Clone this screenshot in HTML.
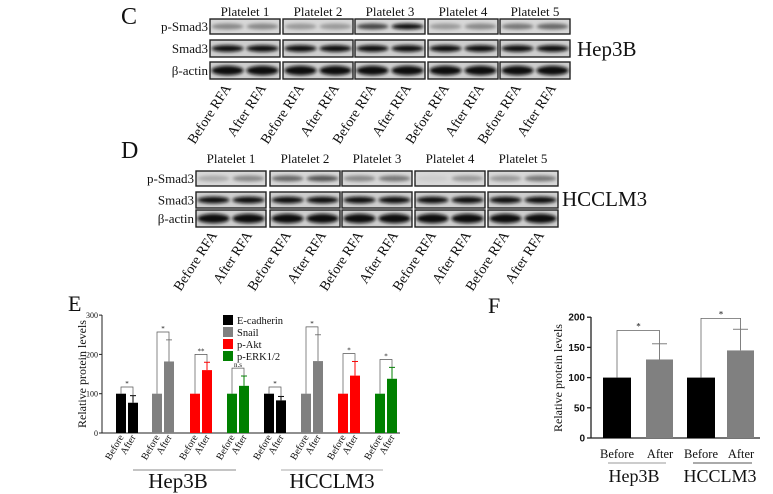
<!DOCTYPE html>
<html><head><meta charset="utf-8"><style>
html,body{margin:0;padding:0;background:#fff;width:773px;height:494px;overflow:hidden}
svg{display:block}
text{font-family:"Liberation Serif",serif;fill:#111}
.s{font-family:"Liberation Sans",sans-serif}
</style></head><body>
<svg id="g" width="773" height="494" viewBox="0 0 773 494" xmlns="http://www.w3.org/2000/svg">
<defs><filter id="b" x="-20%" y="-50%" width="140%" height="200%"><feGaussianBlur stdDeviation="1.6"/></filter></defs>
<text x="121" y="24" font-size="24">C</text>
<text x="121" y="158" font-size="24">D</text>
<text x="68" y="311" font-size="22">E</text>
<text x="488" y="313" font-size="22">F</text>
<text x="577" y="56" font-size="21">Hep3B</text>
<text x="562" y="206" font-size="21">HCCLM3</text>
</svg>
<script>
const S=document.getElementById('g');const NS='http://www.w3.org/2000/svg';
function el(t,a,txt){const e=document.createElementNS(NS,t);for(const k in a)e.setAttribute(k,a[k]);if(txt!==undefined)e.textContent=txt;S.appendChild(e);return e;}
function blot(xs,w,rows,labTop,rotY,labX,ptop){
 const names=['p-Smad3','Smad3','β-actin'];
 rows.forEach((r,i)=>{el('text',{x:labX,y:r[0]+r[1]/2+4.5,'font-size':13,'text-anchor':'end'},names[i]);});
 xs.forEach((x,j)=>{
  el('text',{x:x+w/2,y:labTop,'font-size':13,'text-anchor':'middle'},'Platelet '+(j+1));
  rows.forEach((r,i)=>{
   el('rect',{x:x,y:r[0],width:w,height:r[1],fill:i==0?'#d8d8d8':'#cfcfcf',stroke:'#222','stroke-width':1.4});
   [0.25,0.75].forEach((f,k)=>{
    let c=i==0?(ptop[j][k]):'#111';
    el('ellipse',{cx:x+w*f,cy:r[0]+r[1]/2,rx:w*0.23,ry:i==0?3:(i==1?3.4:4.8),fill:c,filter:'url(#b)'});
   });
  });
  [0.25,0.75].forEach((f,k)=>{
   const cx=x+w*f+4;
   el('text',{x:cx,y:rotY,'font-size':14,'text-anchor':'end',transform:`rotate(-57 ${cx} ${rotY})`},k?'After RFA':'Before RFA');
  });
 });
}
blot([210,283,355,428,500],70,[[19,15],[40,17],[62,17]],16,88,208,
 [['#888','#888'],['#999','#999'],['#444','#111'],['#999','#888'],['#777','#666']]);
blot([196,270,342,415,488],70,[[171,15],[192,16],[210,17]],163,235,194,
 [['#aaa','#888'],['#666','#555'],['#888','#777'],['#ccc','#999'],['#999','#777']]);
// Chart E
const ax=102,y0=433,k=0.393;
el('line',{x1:ax,y1:315,x2:ax,y2:y0,stroke:'#222','stroke-width':1});
el('line',{x1:ax,y1:y0,x2:400,y2:y0,stroke:'#222','stroke-width':1});
[0,100,200,300].forEach(v=>{const y=y0-v*k;el('line',{x1:ax-3,y1:y,x2:ax,y2:y,stroke:'#222'});el('text',{x:ax-4,y:y+3,'font-size':8,'text-anchor':'end'},v);});
el('text',{x:86,y:374,'font-size':12,'text-anchor':'middle',transform:'rotate(-90 86 374)'},'Relative protein levels');
const cols=['#000','#808080','#f00','#008000'];
const dat=[[116,77,95,'*'],[152,182,237,'*'],[190,160,180,'**'],[227,120,145,'ns'],[264,83,93,'*'],[301,183,250,'*'],[338,146,182,'*'],[375,138,167,'*']];
dat.forEach((d,i)=>{
 const c=cols[i%4],x=d[0];
 el('rect',{x:x,y:y0-100*k,width:10,height:100*k,fill:c});
 el('rect',{x:x+12,y:y0-d[1]*k,width:10,height:d[1]*k,fill:c});
 el('line',{x1:x+17,y1:y0-d[1]*k,x2:x+17,y2:y0-d[2]*k,stroke:c});
 el('line',{x1:x+14,y1:y0-d[2]*k,x2:x+20,y2:y0-d[2]*k,stroke:c});
 const by=y0-Math.max(d[2]+20,117)*k;
 el('path',{d:`M${x+5} ${y0-100*k}V${by}H${x+17}V${y0-d[2]*k}`,fill:'none',stroke:'#555','stroke-width':0.7});
 el('text',{x:x+11,y:by-1,'font-size':7,'text-anchor':'middle'},d[3]=='ns'?'n.s':d[3]);
 [[x+8,'Before'],[x+20,'After']].forEach(p=>el('text',{x:p[0],y:437,'font-size':10,'text-anchor':'end',transform:`rotate(-60 ${p[0]} 437)`},p[1]));
});
['E-cadherin','Snail','p-Akt','p-ERK1/2'].forEach((n,i)=>{el('rect',{x:223,y:315+i*12,width:10,height:10,fill:cols[i]});el('text',{x:237,y:324+i*12,'font-size':10.5},n);});
el('line',{x1:133,y1:470,x2:236,y2:470,stroke:'#888'});el('line',{x1:281,y1:470,x2:383,y2:470,stroke:'#aaa'});
el('text',{x:178,y:488,'font-size':21,'text-anchor':'middle'},'Hep3B');
el('text',{x:332,y:488,'font-size':21,'text-anchor':'middle'},'HCCLM3');
// Chart F
const fx=591,f0=438,fk=0.604;
el('line',{x1:fx,y1:317,x2:fx,y2:f0,stroke:'#222','stroke-width':1.3});
el('line',{x1:fx,y1:f0,x2:760,y2:f0,stroke:'#222','stroke-width':1.3});
[0,50,100,150,200].forEach(v=>{const y=f0-v*fk;el('line',{x1:fx-4,y1:y,x2:fx,y2:y,stroke:'#222','stroke-width':1.3});el('text',{x:fx-6,y:y+3.5,'font-size':10,'font-weight':'bold','text-anchor':'end',class:'s'},v);});
el('text',{x:562,y:378,'font-size':12,'text-anchor':'middle',transform:'rotate(-90 562 378)'},'Relative protein levels');
[[603,646,130,156,178],[687,727,145,180,198]].forEach(d=>{
 el('rect',{x:d[0],y:f0-100*fk,width:28,height:100*fk,fill:'#000'});
 el('rect',{x:d[1],y:f0-d[2]*fk,width:27,height:d[2]*fk,fill:'#808080'});
 el('line',{x1:d[1]+13.5,y1:f0-d[2]*fk,x2:d[1]+13.5,y2:f0-d[3]*fk,stroke:'#808080'});
 el('line',{x1:d[1]+6,y1:f0-d[3]*fk,x2:d[1]+21,y2:f0-d[3]*fk,stroke:'#808080'});
 el('path',{d:`M${d[0]+14} ${f0-100*fk}V${f0-d[4]*fk}H${d[1]+13.5}V${f0-d[3]*fk}`,fill:'none',stroke:'#666','stroke-width':0.8});
 el('text',{x:(d[0]+d[1])/2+14,y:f0-d[4]*fk-1,'font-size':9,'text-anchor':'middle'},'*');
 el('text',{x:d[0]+14,y:458,'font-size':12.5,'text-anchor':'middle'},'Before');
 el('text',{x:d[1]+14,y:458,'font-size':12.5,'text-anchor':'middle'},'After');
});
el('line',{x1:608,y1:463,x2:666,y2:463,stroke:'#999'});el('line',{x1:693,y1:463,x2:752,y2:463,stroke:'#555'});
el('text',{x:634,y:482,'font-size':18,'text-anchor':'middle'},'Hep3B');
el('text',{x:720,y:482,'font-size':18,'text-anchor':'middle'},'HCCLM3');
</script>
</body></html>
